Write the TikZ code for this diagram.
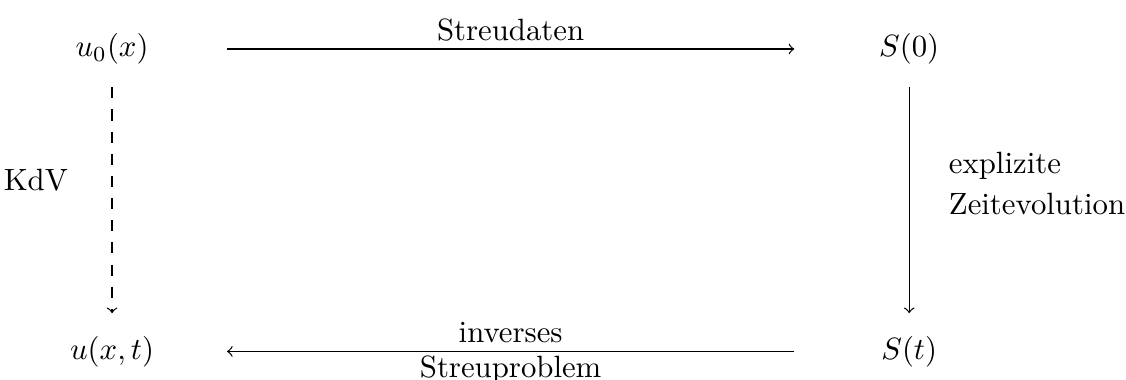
\documentclass[tikz,border=0pt]{standalone}
\usetikzlibrary{positioning}

\begin{document}
\begin{tikzpicture}[
  obj/.style={minimum width=2.61cm, minimum height=0.86cm, inner sep=0pt},
  arrow/.style={->},
  dasharrow/.style={->, dash pattern=on 3.6pt off 3.6pt},
  node distance=2.58cm and 6.48cm
]
\useasboundingbox (-1.28,0.56) rectangle (11.58,-3.78);

\node[obj] (u0) {$u_0(x)$};
\node[obj, right=of u0] (S0) {$S(0)$};
\node[obj, below=of S0] (St) {$S(t)$};
\node[obj, below=of u0] (ut) {$u(x,t)$};

\draw[arrow] (u0) -- node[above, inner sep=2.5pt] (streu) {Streudaten} (S0);
\draw[arrow] (S0) -- node[right=3.3mm, yshift=1.9mm, align=left] (zeit)
  {explizite\\[1.3pt] Zeitevolution} (St);
\draw[arrow] (St) -- node[above, inner sep=2.5pt] (inv) {inverses}
  node[below, inner sep=1.2pt] (prob) {Streuproblem} (ut);

% dashed side: the KdV flow itself
\draw[dasharrow] (u0) -- node[left=3.8mm, yshift=2.3mm] (kdv) {KdV} (ut);

\end{tikzpicture}
\end{document}
